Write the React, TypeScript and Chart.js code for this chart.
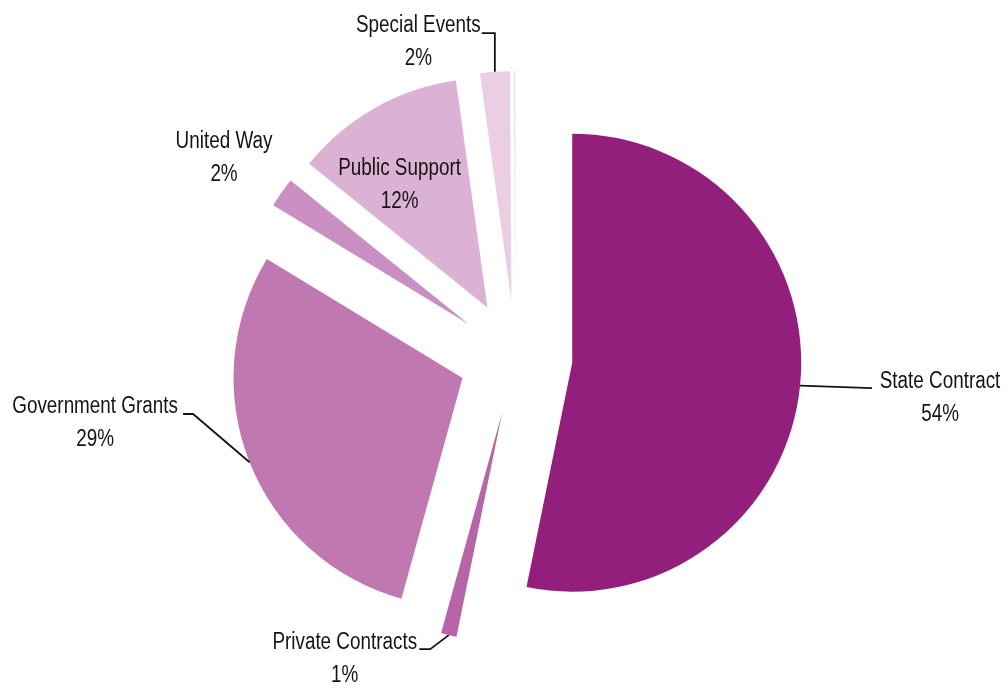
import React, { useEffect, useRef } from 'react';
import { Chart, registerables } from 'chart.js';

Chart.register(...registerables);

// ---- data ----
const categories = [
  'State Contract',
  'Private Contracts',
  'Government Grants',
  'United Way',
  'Public Support',
  'Special Events',
  'Other',
];
const shares = [53.2, 1.1, 29.4, 2.1, 12.0, 2.1, 0.1];
const percentLabels = ['54%', '1%', '29%', '2%', '12%', '2%', ''];

// ---- styles ----
const sliceColors = ['#921f7c', '#b565a8', '#bf78b0', '#c98fc2', '#dbb2d3', '#e9cee4', '#e4def0'];
const EXPLODE = 57;
const PIE_RADIUS = 229;
const LINE_HEIGHT = 33;
const LABEL_FONT = '23px "Liberation Sans", Arial, sans-serif';
const TEXT_SQUEEZE = 0.82;
const INK = '#151313';

// label layout, relative to the outer mid-point of each exploded slice
type Layout = { text: [number, number]; leader: [number, number][] } | null;
const labelLayout: Layout[] = [
  { text: [140, 2.5], leader: [[72, 2.5]] },
  { text: [-104, 14], leader: [[-18.5, 14], [-29.5, 14]] },
  { text: [-154.5, -49], leader: [[-56.5, -48.3], [-66.5, -48.3]] },
  { text: [-57.5, -45], leader: [] },
  { text: [25, 67], leader: [] },
  { text: [-76.5, -39.7], leader: [[0, -38.7], [-13, -38.7]] },
  null,
];

const explodePlugin = {
  id: 'explodeSlices',
  beforeDatasetDraw(chart: any, args: any) {
    const ctx = chart.ctx;
    args.meta.data.forEach((arc: any) => {
      const { startAngle, endAngle } = arc.getProps(['startAngle', 'endAngle'], true);
      const mid = (startAngle + endAngle) / 2;
      ctx.save();
      ctx.translate(Math.cos(mid) * EXPLODE, Math.sin(mid) * EXPLODE);
      arc.draw(ctx, chart.chartArea);
      ctx.restore();
    });
    return false;
  },
};

const labelPlugin = {
  id: 'sliceLabels',
  afterDatasetsDraw(chart: any) {
    const ctx = chart.ctx;
    const meta = chart.getDatasetMeta(0);
    meta.data.forEach((arc: any, i: number) => {
      const layout = labelLayout[i];
      if (!layout) return;
      const { x, y, startAngle, endAngle, outerRadius } = arc.getProps(
        ['x', 'y', 'startAngle', 'endAngle', 'outerRadius'],
        true
      );
      const mid = (startAngle + endAngle) / 2;
      const r = outerRadius + EXPLODE;
      const px = x + Math.cos(mid) * r;
      const py = y + Math.sin(mid) * r;
      ctx.save();
      if (layout.leader.length) {
        ctx.beginPath();
        ctx.moveTo(px, py);
        layout.leader.forEach(([dx, dy]) => ctx.lineTo(px + dx, py + dy));
        ctx.strokeStyle = INK;
        ctx.lineWidth = 1.8;
        ctx.lineJoin = 'miter';
        ctx.stroke();
      }
      const tx = px + layout.text[0];
      const ty = py + layout.text[1];
      ctx.translate(tx, ty);
      ctx.scale(TEXT_SQUEEZE, 1);
      ctx.font = LABEL_FONT;
      ctx.fillStyle = INK;
      ctx.textAlign = 'center';
      ctx.textBaseline = 'alphabetic';
      ctx.fillText(categories[i], 0, 0);
      ctx.fillText(percentLabels[i], 0, LINE_HEIGHT);
      ctx.restore();
    });
  },
};

export default function App() {
  const canvasRef = useRef<HTMLCanvasElement | null>(null);

  useEffect(() => {
    const canvas = canvasRef.current;
    if (!canvas) return;
    const chart = new Chart(canvas, {
      type: 'pie',
      data: {
        labels: categories,
        datasets: [
          {
            data: shares,
            backgroundColor: sliceColors,
            borderWidth: 0,
            offset: 0,
          },
        ],
      },
      options: {
        responsive: false,
        animation: false,
        radius: PIE_RADIUS,
        layout: { padding: { left: 23, top: 26, right: 0, bottom: 0 } },
        plugins: {
          legend: { display: false },
          tooltip: { enabled: false },
        },
        events: [],
      },
      plugins: [explodePlugin, labelPlugin],
    } as any);
    return () => chart.destroy();
  }, []);

  return (
    <div style={{ position: 'absolute', left: 0, top: 0, width: 1008, height: 688, background: '#fff' }}>
      <canvas ref={canvasRef} width={1008} height={688} style={{ display: 'block' }} />
    </div>
  );
}
